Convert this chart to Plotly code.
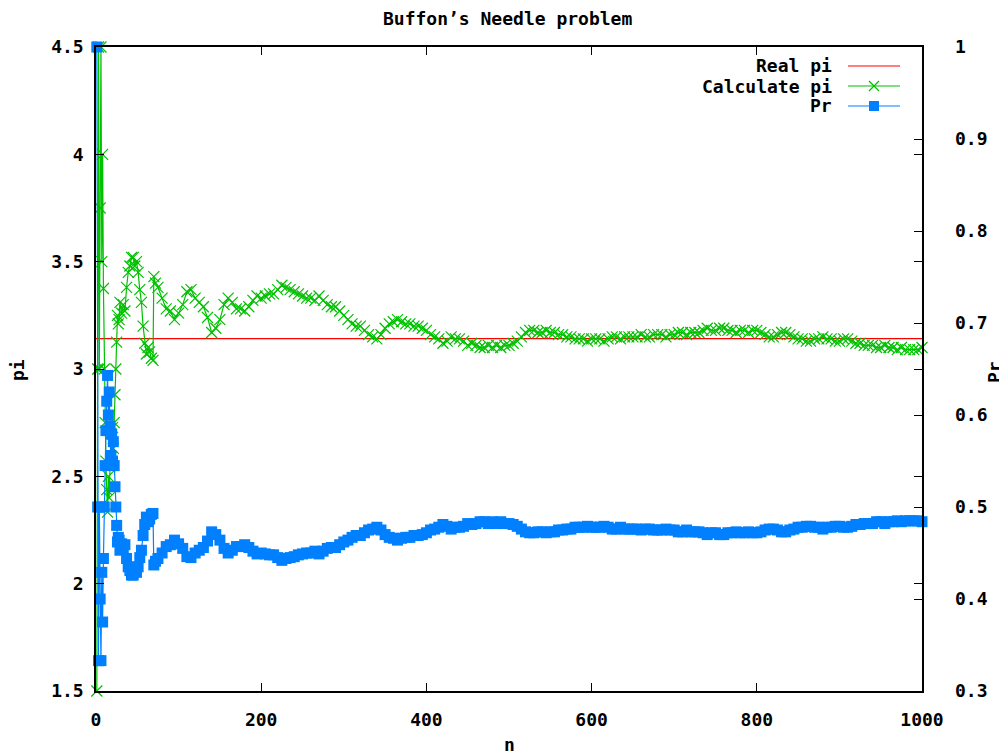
import plotly.graph_objects as go

# ---------------- data ----------------
title_text = "Buffon’s Needle problem"
x_label = "n"
y_label = "pi"
y2_label = "Pr"
series_names = ["Real pi", "Calculate pi", "Pr"]

real_pi_n = [0, 1000]
real_pi_val = [3.14159, 3.14159]

n_values = list(range(1, 29)) + list(range(29, 70, 2)) + [70, 72] + list(range(75, 1001, 5))

calc_pi = [
    # n = 1 .. 28
    1.5, 3.0, 4.5, 3.0, 3.75, 4.5, 3.5, 4.0, 3.375, 3.0,
    2.75, 2.571, 2.438, 2.333, 2.5, 2.4, 2.55, 2.7, 2.591, 2.727,
    2.63, 2.75, 2.88, 3.0, 3.125, 3.25, 3.21, 3.23,
    # n = 29 .. 69 (step 2), 70, 72
    3.31, 3.26, 3.30, 3.27, 3.38, 3.45, 3.48, 3.52, 3.52, 3.48,
    3.50, 3.45, 3.37, 3.31, 3.20, 3.12, 3.07, 3.10, 3.08, 3.05,
    3.04, 3.43, 3.40,
    # n = 75 .. 1000 (step 5)
    3.38, 3.33, 3.28, 3.27, 3.23, 3.26, 3.30, 3.36, 3.37, 3.33,
    3.31, 3.29, 3.24, 3.17, 3.19, 3.23, 3.30, 3.33, 3.31, 3.28,
    3.28, 3.27, 3.29, 3.32, 3.34, 3.33, 3.34, 3.35, 3.35, 3.37,
    3.39, 3.38, 3.37, 3.36, 3.35, 3.34, 3.33, 3.33, 3.32, 3.34,
    3.32, 3.30, 3.29, 3.29, 3.27, 3.25, 3.23, 3.21, 3.20, 3.20,
    3.18, 3.16, 3.15, 3.14, 3.16, 3.19, 3.21, 3.22, 3.23, 3.22,
    3.21, 3.21, 3.20, 3.20, 3.19, 3.18, 3.16, 3.15, 3.14, 3.12,
    3.13, 3.15, 3.14, 3.14, 3.13, 3.11, 3.12, 3.11, 3.10, 3.10,
    3.11, 3.10, 3.11, 3.10, 3.11, 3.11, 3.12, 3.13, 3.15, 3.17,
    3.18, 3.18, 3.17, 3.17, 3.18, 3.17, 3.17, 3.16, 3.16, 3.15,
    3.15, 3.14, 3.14, 3.14, 3.13, 3.14, 3.14, 3.14, 3.13, 3.14,
    3.15, 3.15, 3.14, 3.15, 3.15, 3.15, 3.15, 3.16, 3.15, 3.15,
    3.16, 3.16, 3.16, 3.15, 3.16, 3.16, 3.17, 3.17, 3.16, 3.17,
    3.17, 3.17, 3.18, 3.19, 3.18, 3.18, 3.19, 3.19, 3.18, 3.18,
    3.17, 3.18, 3.18, 3.17, 3.18, 3.18, 3.17, 3.16, 3.15, 3.15,
    3.16, 3.17, 3.17, 3.16, 3.15, 3.14, 3.14, 3.13, 3.13, 3.14,
    3.14, 3.15, 3.14, 3.14, 3.13, 3.13, 3.14, 3.14, 3.13, 3.12,
    3.12, 3.11, 3.11, 3.11, 3.10, 3.10, 3.11, 3.10, 3.10, 3.09,
    3.10, 3.09, 3.09, 3.09, 3.09, 3.10,
]

pr_values = [
    # n = 1 .. 28
    1.0, 0.5, 0.333, 0.5, 0.4, 0.333, 0.429, 0.375, 0.444, 0.5,
    0.545, 0.583, 0.615, 0.643, 0.6, 0.625, 0.588, 0.556, 0.579, 0.55,
    0.571, 0.545, 0.522, 0.5, 0.48, 0.462, 0.467, 0.464,
    # n = 29 .. 69 (step 2), 70, 72
    0.453, 0.460, 0.455, 0.459, 0.444, 0.435, 0.431, 0.426, 0.426, 0.431,
    0.429, 0.435, 0.445, 0.453, 0.469, 0.481, 0.489, 0.484, 0.487, 0.492,
    0.493, 0.437, 0.441,
    # n = 75 .. 1000 (step 5)
    0.444, 0.450, 0.457, 0.459, 0.464, 0.460, 0.455, 0.446, 0.445, 0.450,
    0.453, 0.456, 0.463, 0.473, 0.470, 0.464, 0.455, 0.450, 0.453, 0.457,
    0.457, 0.459, 0.456, 0.452, 0.449, 0.450, 0.449, 0.448, 0.448, 0.445,
    0.442, 0.444, 0.445, 0.446, 0.448, 0.449, 0.450, 0.450, 0.452, 0.449,
    0.452, 0.455, 0.456, 0.456, 0.459, 0.462, 0.464, 0.467, 0.469, 0.469,
    0.472, 0.475, 0.476, 0.478, 0.475, 0.470, 0.467, 0.466, 0.464, 0.466,
    0.467, 0.467, 0.469, 0.469, 0.470, 0.472, 0.475, 0.476, 0.478, 0.481,
    0.479, 0.476, 0.478, 0.478, 0.479, 0.482, 0.481, 0.482, 0.484, 0.484,
    0.482, 0.484, 0.482, 0.484, 0.482, 0.482, 0.481, 0.479, 0.476, 0.473,
    0.472, 0.472, 0.473, 0.473, 0.472, 0.473, 0.473, 0.475, 0.475, 0.476,
    0.476, 0.478, 0.478, 0.478, 0.479, 0.478, 0.478, 0.478, 0.479, 0.478,
    0.476, 0.476, 0.478, 0.476, 0.476, 0.476, 0.476, 0.475, 0.476, 0.476,
    0.475, 0.475, 0.475, 0.476, 0.475, 0.475, 0.473, 0.473, 0.475, 0.473,
    0.473, 0.473, 0.472, 0.470, 0.472, 0.472, 0.470, 0.470, 0.472, 0.472,
    0.473, 0.472, 0.472, 0.473, 0.472, 0.472, 0.473, 0.475, 0.476, 0.476,
    0.475, 0.473, 0.473, 0.475, 0.476, 0.478, 0.478, 0.479, 0.479, 0.478,
    0.478, 0.476, 0.478, 0.478, 0.479, 0.479, 0.478, 0.478, 0.479, 0.481,
    0.481, 0.482, 0.482, 0.482, 0.484, 0.484, 0.482, 0.484, 0.484, 0.485,
    0.484, 0.485, 0.485, 0.485, 0.485, 0.484,
]

x_ticks = [0, 200, 400, 600, 800, 1000]
y_ticks = [1.5, 2.0, 2.5, 3.0, 3.5, 4.0, 4.5]
y_tick_text = ["1.5", "2", "2.5", "3", "3.5", "4", "4.5"]
y2_ticks = [0.3, 0.4, 0.5, 0.6, 0.7, 0.8, 0.9, 1.0]
y2_tick_text = ["0.3", "0.4", "0.5", "0.6", "0.7", "0.8", "0.9", "1"]

assert len(calc_pi) == len(n_values) == len(pr_values), (len(calc_pi), len(n_values), len(pr_values))

# ---------------- styling ----------------
RED = "#ff0000"
GREEN = "#00c000"
BLUE = "#0080ff"
FONT = "DejaVu Sans Mono"
FS = 18

OFF = 8  # default page body margin
W, H = 1007 - OFF, 755 - OFF
# target plot area in window pixels: x 96..922, y 47..691
L, T = 96 - OFF, 47 - OFF
R, B = (W + OFF) - 922, (H + OFF) - 691
PW, PH = W - L - R, H - T - B


def px(xw):  # window pixel -> paper x
    return (xw - OFF - L) / PW


def py(yw):  # window pixel -> paper y
    return (H - B - (yw - OFF)) / PH


fig = go.Figure()
fig.add_trace(go.Scatter(x=real_pi_n, y=real_pi_val, mode="lines", name=series_names[0],
                         line=dict(color=RED, width=1.2), yaxis="y"))
fig.add_trace(go.Scatter(x=n_values, y=calc_pi, mode="lines+markers", name=series_names[1],
                         line=dict(color=GREEN, width=1.2),
                         marker=dict(symbol="x-thin", size=11, line=dict(color=GREEN, width=1.2)),
                         cliponaxis=False, yaxis="y"))
fig.add_trace(go.Scatter(x=n_values, y=pr_values, mode="lines+markers", name=series_names[2],
                         line=dict(color=BLUE, width=1.2),
                         marker=dict(symbol="square", size=11, color=BLUE, line=dict(width=0)),
                         cliponaxis=False, yaxis="y2"))

axis_common = dict(showgrid=False, zeroline=False, ticks="inside", ticklen=8, tickwidth=1.2,
                   tickcolor="black", tickfont=dict(family=FONT, size=FS, color="black", weight="bold"))

fig.update_layout(
    width=W, height=H,
    margin=dict(l=L, r=R, t=T, b=B, pad=0),
    paper_bgcolor="white", plot_bgcolor="white",
    showlegend=False,
    font=dict(family=FONT, size=FS, color="black", weight="bold"),
    xaxis=dict(range=[0, 1000], tickvals=x_ticks, showline=True, linecolor="black", linewidth=1.5,
               mirror="ticks", ticklabelstandoff=12, **axis_common),
    yaxis=dict(range=[1.5, 4.5], tickvals=y_ticks, ticktext=y_tick_text, showline=True,
               linecolor="black", linewidth=1.5, mirror="ticks", ticklabelstandoff=7, **axis_common),
    yaxis2=dict(range=[0.3, 1.0], tickvals=y2_ticks, ticktext=y2_tick_text, overlaying="y",
                side="right", showline=False, ticklabelstandoff=32, **axis_common),
)

ann_font = dict(family=FONT, size=FS, color="black", weight="bold")
annotations = [
    dict(text=title_text, x=px(507), y=py(18), xref="paper", yref="paper",
         xanchor="center", yanchor="middle", showarrow=False, font=ann_font),
    dict(text=x_label, x=px(509), y=py(744), xref="paper", yref="paper",
         xanchor="center", yanchor="middle", showarrow=False, font=ann_font),
    dict(text=y_label, x=px(17), y=py(370), xref="paper", yref="paper", textangle=-90,
         xanchor="center", yanchor="middle", showarrow=False, font=ann_font),
    dict(text=y2_label, x=px(995), y=py(372), xref="paper", yref="paper", textangle=-90,
         xanchor="center", yanchor="middle", showarrow=False, font=ann_font),
]

# custom gnuplot-style key: text right-aligned, sample to its right
key_rows = [66, 86, 106]
key_colors = [RED, GREEN, BLUE]
shapes = []
for name, yrow, col in zip(series_names, key_rows, key_colors):
    annotations.append(dict(text=name, x=px(834), y=py(yrow), xref="paper", yref="paper",
                            xanchor="right", yanchor="middle", showarrow=False, font=ann_font))
    shapes.append(dict(type="line", xref="paper", yref="paper", x0=px(848), x1=px(900),
                       y0=py(yrow), y1=py(yrow), line=dict(color=col, width=1.2)))
# marker samples
cx, cy = 874, key_rows[1]
for dx in (-5, 5):
    shapes.append(dict(type="line", xref="paper", yref="paper", x0=px(cx - 5), x1=px(cx + 5),
                       y0=py(cy - dx), y1=py(cy + dx), line=dict(color=GREEN, width=1.2)))
cy = key_rows[2]
shapes.append(dict(type="rect", xref="paper", yref="paper", x0=px(cx - 5), x1=px(cx + 5),
                   y0=py(cy + 5), y1=py(cy - 5), line=dict(width=0), fillcolor=BLUE))

fig.update_layout(annotations=annotations, shapes=shapes)
fig.write_html("out.html")
